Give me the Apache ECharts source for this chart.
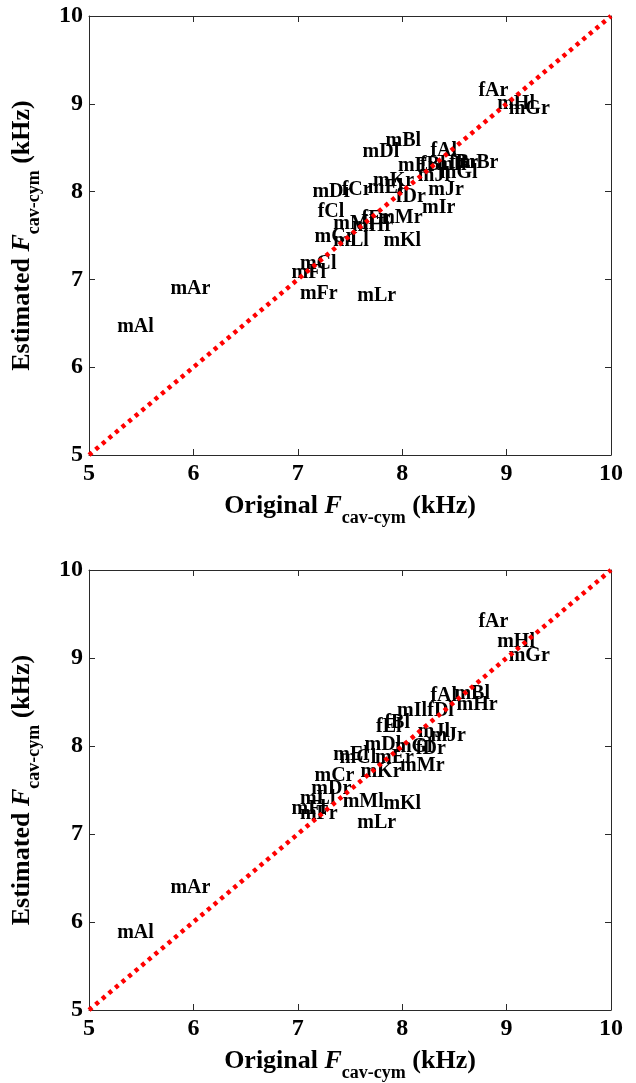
<!DOCTYPE html>
<html><head><meta charset="utf-8">
<script src="https://cdn.jsdelivr.net/npm/echarts@6/dist/echarts.min.js"></script>
<style>html,body{margin:0;padding:0;background:#fff}#c{width:636px;height:1083px}</style>
</head><body><div id="c"></div>
<script>
// Panel 1
const labels1 = ['fAr','mHl','mGr','mBl','mDl','fAl','mEr','fBl','mIl','fBr','mBr','mJl','mGl','mKr','mEl','fCr','mDr','fDr','mJr','mIr','fCl','mMr','fEr','mMl','mHr','mCr','mLl','mKl','mCl','mFl','mFr','mLr','mAr','mAl'];
const orig1   = [8.73,8.91,9.02,7.84,7.62,8.27,7.96,8.17,8.33,8.45,8.55,8.15,8.36,7.72,7.67,7.42,7.14,7.94,8.25,8.19,7.19,7.77,7.61,7.34,7.52,7.16,7.34,7.82,7.02,6.94,7.02,7.57,5.78,5.27];
const est1    = [9.15,9.00,8.94,8.58,8.45,8.47,8.29,8.30,8.31,8.33,8.33,8.18,8.21,8.12,8.04,8.02,8.00,7.94,8.02,7.81,7.77,7.70,7.69,7.63,7.61,7.49,7.44,7.44,7.18,7.07,6.83,6.81,6.89,6.46];
// Panel 2
const labels2 = ['fAr','mHl','mGr','fAl','mBl','mHr','mIl','fDl','fEl','fBl','mJr','mJl','mDl','mGl','fDr','mEl','mCl','mEr','mMr','mKr','mCr','mDr','mLl','mMl','mKl','mFl','mFr','mLr','mAr','mAl'];
const orig2   = [8.73,8.91,9.02,8.27,8.50,8.52,7.95,8.24,7.75,7.83,8.27,8.15,7.64,7.93,8.13,7.34,7.40,7.74,7.98,7.60,7.16,7.13,7.02,7.43,7.82,6.94,7.02,7.57,5.78,5.27];
const est2    = [9.41,9.18,9.02,8.57,8.59,8.47,8.40,8.40,8.22,8.26,8.12,8.16,8.01,7.99,7.97,7.90,7.86,7.86,7.77,7.71,7.66,7.51,7.40,7.36,7.34,7.29,7.23,7.13,6.39,5.88];
const axisMin = 5, axisMax = 10, axisStep = 1;
const diagonal = [[5,5],[10,10]];

const serif = 'Liberation Serif';
const axisColor = '#2a2a2a';
const rich = {
  a: {fontFamily: serif, fontWeight: 'bold', fontSize: 26, color: '#000', verticalAlign: 'top'},
  f: {fontFamily: serif, fontWeight: 'bold', fontStyle: 'italic', fontSize: 26, color: '#000', verticalAlign: 'top'},
  s: {fontFamily: serif, fontWeight: 'bold', fontSize: 18, color: '#000', verticalAlign: 'top', padding: [16,0,0,0]}
};
const xName = '{a|Original }{f|F}{s|cav-cym}{a| (kHz)}';
const yName = '{a|Estimated }{f|F}{s|cav-cym}{a| (kHz)}';

function mkX(gi, bottom) {
  const ax = {
    type: 'value', gridIndex: gi, min: axisMin, max: axisMax, interval: axisStep,
    position: bottom ? 'bottom' : 'top',
    axisLine: {show: true, lineStyle: {color: axisColor, width: 1}},
    axisTick: {show: true, inside: true, length: 6, lineStyle: {color: axisColor}},
    splitLine: {show: false},
    axisLabel: {show: bottom, margin: 7, fontFamily: serif, fontWeight: 'bold', fontSize: 24, color: '#000'}
  };
  if (bottom) {
    ax.name = xName; ax.nameLocation = 'middle'; ax.nameGap = 38;
    ax.nameTextStyle = {rich: rich};
  }
  return ax;
}
function mkY(gi, left) {
  const ax = {
    type: 'value', gridIndex: gi, min: axisMin, max: axisMax, interval: axisStep,
    position: left ? 'left' : 'right',
    axisLine: {show: true, lineStyle: {color: axisColor, width: 1}},
    axisTick: {show: true, inside: true, length: 6, lineStyle: {color: axisColor}},
    splitLine: {show: false},
    axisLabel: {show: left, margin: 6, fontFamily: serif, fontWeight: 'bold', fontSize: 24, color: '#000'}
  };
  if (left) {
    ax.name = yName; ax.nameLocation = 'middle'; ax.nameGap = 46;
    ax.nameTextStyle = {rich: rich};
  }
  return ax;
}
function pts(lbl, xs, ys) { return lbl.map((n, i) => ({name: n, value: [xs[i], ys[i]]})); }
function scatter(gi, lbl, xs, ys) {
  return {
    type: 'scatter', xAxisIndex: gi * 2, yAxisIndex: gi * 2, symbolSize: 0, z: 2,
    data: pts(lbl, xs, ys), silent: true,
    itemStyle: {opacity: 1},
    label: {show: true, position: 'right', distance: 0, formatter: '{b}', opacity: 1,
      fontFamily: serif, fontWeight: 'bold', fontSize: 20, color: '#000'},
    labelLayout: {hideOverlap: false}
  };
}
function diag(gi) {
  return {
    type: 'line', xAxisIndex: gi * 2, yAxisIndex: gi * 2, data: diagonal, z: 10,
    showSymbol: false, silent: true,
    lineStyle: {color: '#ff0000', width: 4.5, type: [4, 4.6], cap: 'butt'}
  };
}

const chart = echarts.init(document.getElementById('c'), null, {renderer: 'canvas'});
chart.setOption({
  animation: false,
  backgroundColor: '#fff',
  grid: [
    {left: 89, top: 16, width: 522, height: 439},
    {left: 89, top: 570, width: 522, height: 443}
  ],
  xAxis: [mkX(0, true), mkX(0, false), mkX(1, true), mkX(1, false)],
  yAxis: [mkY(0, true), mkY(0, false), mkY(1, true), mkY(1, false)],
  series: [scatter(0, labels1, orig1, est1), diag(0), scatter(1, labels2, orig2, est2), diag(1)]
});
</script></body></html>
